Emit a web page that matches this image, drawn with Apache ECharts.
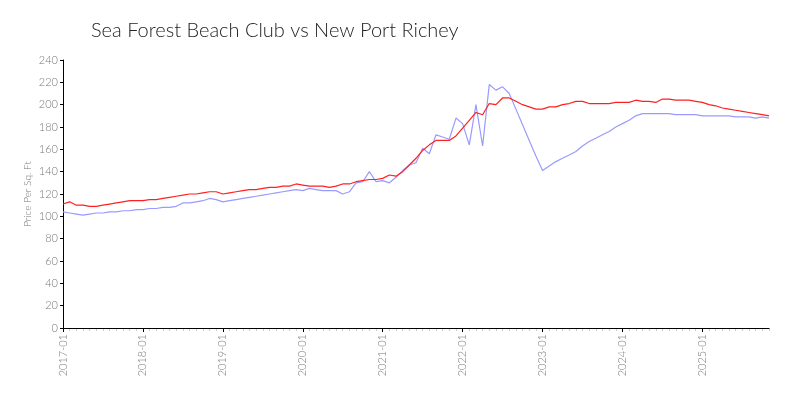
<!DOCTYPE html>
<html>
<head>
<meta charset="utf-8">
<script src="https://cdn.jsdelivr.net/npm/echarts@6/dist/echarts.min.js"></script>
<style>
  html, body { margin: 0; padding: 0; background: #fff; }
  #chart { width: 800px; height: 400px; }
</style>
</head>
<body>
<div id="chart"></div>
<script>
// months 2017-01 .. 2025-11
const months = []
for (let y = 2017; y <= 2025; y++) {
  for (let m = 1; m <= 12; m++) {
    if (y === 2025 && m > 11) break
    months.push(y + '-' + String(m).padStart(2, '0'))
  }
}

const seaForest = [
  111, 113, 110, 110, 109, 109, 110, 111, 112, 113, 114, 114,
  114, 115, 115, 116, 117, 118, 119, 120, 120, 121, 122, 122,
  120, 121, 122, 123, 124, 124, 125, 126, 126, 127, 127, 129,
  128, 127, 127, 127, 126, 127, 129, 129, 131, 132, 133, 133,
  134, 137, 136, 140, 146, 152, 159, 164, 168, 168, 168, 172,
  179, 186, 193, 191, 201, 200, 206, 206, 203, 200, 198, 196,
  196, 198, 198, 200, 201, 203, 203, 201, 201, 201, 201, 202,
  202, 202, 204, 203, 203, 202, 205, 205, 204, 204, 204, 203,
  202, 200, 199, 197, 196, 195, 194, 193, 192, 191, 190
]

const newPortRichey = [
  104, 103, 102, 101, 102, 103, 103, 104, 104, 105, 105, 106,
  106, 107, 107, 108, 108, 109, 112, 112, 113, 114, 116, 115,
  113, 114, 115, 116, 117, 118, 119, 120, 121, 122, 123, 124,
  123, 125, 124, 123, 123, 123, 120, 122, 130, 131, 140, 131,
  132, 130, 135, 141, 146, 148, 161, 156, 173, 171, 169, 188,
  183, 164, 200, 163, 218, 213, 216, 210, 196, 182, 168, 154,
  141, 145, 149, 152, 155, 158, 163, 167, 170, 173, 176, 180,
  183, 186, 190, 192, 192, 192, 192, 192, 191, 191, 191, 191,
  190, 190, 190, 190, 190, 189, 189, 189, 188, 189, 188
]

const chart = echarts.init(document.getElementById('chart'))

const fontFamily = 'Lato'

const option = {
  animation: false,
  title: {
    text: 'Sea Forest Beach Club vs New Port Richey',
    left: 86,
    top: 16,
    textStyle: {
      fontFamily: fontFamily,
      fontWeight: 300,
      fontSize: 20,
      color: '#222',
    },
  },
  grid: {
    left: 63,
    right: 31,
    top: 60,
    bottom: 72,
  },
  xAxis: [
    {
      type: 'category',
      data: months,
      boundaryGap: false,
      axisLine: {
        lineStyle: { color: '#000', width: 1 },
      },
      axisTick: {
        interval: 11,
        length: 4,
        lineStyle: { color: '#000' },
      },
      axisLabel: {
        interval: 11,
        rotate: 90,
        color: '#777',
        fontFamily: fontFamily,
        fontWeight: 300,
        fontSize: 11,
        margin: 6,
      },
      splitLine: { show: false },
    },
    {
      // faint monthly ticks
      type: 'category',
      data: months,
      boundaryGap: false,
      position: 'bottom',
      axisLine: { show: false },
      axisTick: {
        interval: 0,
        length: 3,
        lineStyle: { color: 'rgba(0,0,0,0.2)', width: 1 },
      },
      axisLabel: { show: false },
      splitLine: { show: false },
    },
  ],
  yAxis: {
    type: 'value',
    min: 0,
    max: 240,
    interval: 20,
    name: 'Price Per Sq. Ft',
    nameLocation: 'middle',
    nameRotate: 90,
    nameGap: 30,
    nameMoveOverlap: false,
    nameTextStyle: {
      color: '#777',
      fontFamily: fontFamily,
      fontWeight: 300,
      fontSize: 10,
    },
    axisLine: {
      show: true,
      lineStyle: { color: '#000', width: 1 },
    },
    axisTick: {
      show: true,
      length: 3,
      lineStyle: { color: '#000' },
    },
    axisLabel: {
      color: '#777',
      fontFamily: fontFamily,
      fontWeight: 300,
      fontSize: 11,
      margin: 5,
    },
    splitLine: { show: false },
  },
  series: [
    {
      name: 'Sea Forest Beach Club',
      type: 'line',
      data: seaForest,
      showSymbol: false,
      lineStyle: { color: '#ff2020', width: 1.2 },
      itemStyle: { color: '#ff2020' },
      z: 3,
    },
    {
      name: 'New Port Richey',
      type: 'line',
      data: newPortRichey,
      showSymbol: false,
      lineStyle: { color: '#9a9aff', width: 1.2 },
      itemStyle: { color: '#9a9aff' },
      z: 2,
    },
  ],
}

chart.setOption(option)
</script>
</body>
</html>
